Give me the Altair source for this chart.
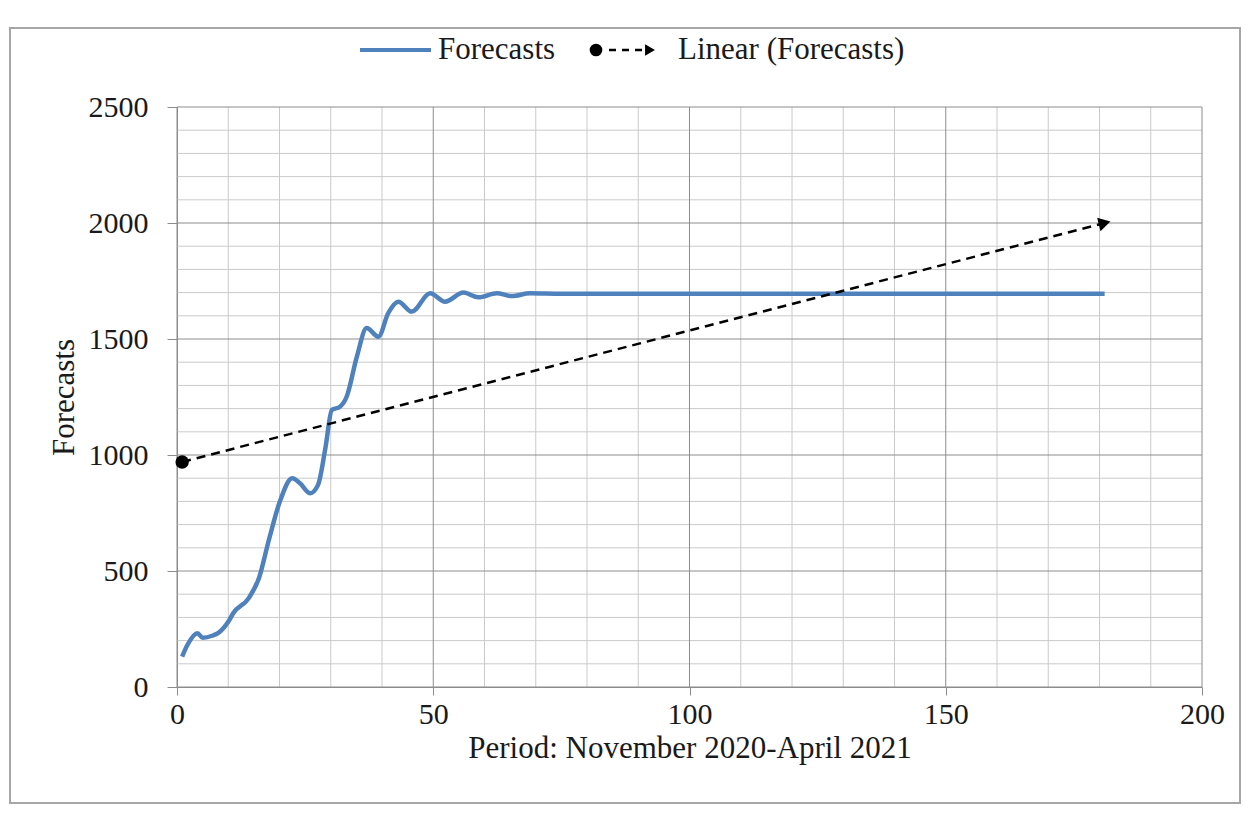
import altair as alt
import pandas as pd

# ---- data ----
period = [1, 2, 4, 5, 7, 8, 10, 11, 14, 16, 18, 20, 22.5, 24, 26, 27.5, 29, 30.2, 31.8, 33.1,
          35.1, 37, 39.3, 41.2, 43.2, 45.8, 49.4, 52.3, 55.9, 58.8, 62.4, 65.3, 68.9, 75, 90,
          120, 150, 181]
forecast = [131, 180, 232, 212, 222, 232, 281, 319, 383, 470, 640, 795, 900, 878, 835, 870,
            1036, 1194, 1208, 1251, 1424, 1547, 1510, 1611, 1661, 1618, 1697, 1661, 1700, 1680,
            1697, 1685, 1697, 1695, 1695, 1695, 1695, 1695]
trend_period = [1, 181]
trend_value = [970, 2000]
x_labels = [0, 50, 100, 150, 200]
y_labels = [0, 500, 1000, 1500, 2000, 2500]
x_minor_grid = [v for v in range(0, 201, 10) if v % 50 != 0]
y_minor_grid = [v for v in range(0, 2501, 100) if v % 500 != 0]
legend_labels = ["Forecasts", "Linear (Forecasts)"]

FONT = "Liberation Serif"
TXT = "#1a1a1a"
MAJOR = "#8c8c8c"
MINOR = "#cacaca"
BLUE = "#4F81BD"
W, H = 1025, 580

df = pd.DataFrame({"period": period, "forecast": forecast})
tr = pd.DataFrame({"period": trend_period, "forecast": trend_value})
tr_start = tr.head(1)
tr_end = tr.tail(1)

xscale = alt.Scale(domain=[0, 200], nice=False, zero=False)
yscale = alt.Scale(domain=[0, 2500], nice=False)

xaxis = alt.Axis(
    values=x_labels, tickCount=40, grid=False, format="d",
    tickColor=MAJOR, tickSize=8, domainColor=MAJOR,
    labelFont=FONT, labelFontSize=30, labelColor=TXT, labelPadding=4,
    labelOverlap=False, labelFlush=False,
    title="Period: November 2020-April 2021", titleFont=FONT, titleFontSize=31,
    titleFontWeight="normal", titleColor=TXT, titlePadding=4,
)
yaxis = alt.Axis(
    values=y_labels, tickCount=40, grid=False, format="d",
    tickColor=MAJOR, tickSize=10, domainColor=MAJOR,
    labelFont=FONT, labelFontSize=30, labelColor=TXT, labelPadding=19,
    labelOverlap=False, labelFlush=False,
    title="Forecasts", titleFont=FONT, titleFontSize=31,
    titleFontWeight="normal", titleColor=TXT, titlePadding=8,
)
X = alt.X("period:Q", scale=xscale, axis=xaxis)
Y = alt.Y("forecast:Q", scale=yscale, axis=yaxis)

# ---- grid drawn as rules from the tick lists ----
vgrid_minor = alt.Chart(pd.DataFrame({"period": x_minor_grid})).mark_rule(
    color=MINOR, strokeWidth=1).encode(x=X)
hgrid_minor = alt.Chart(pd.DataFrame({"forecast": y_minor_grid})).mark_rule(
    color=MINOR, strokeWidth=1).encode(y=Y)
vgrid_major = alt.Chart(pd.DataFrame({"period": x_labels})).mark_rule(
    color=MAJOR, strokeWidth=1).encode(x=X)
hgrid_major = alt.Chart(pd.DataFrame({"forecast": y_labels})).mark_rule(
    color=MAJOR, strokeWidth=1).encode(y=Y)

line = alt.Chart(df).mark_line(color=BLUE, strokeWidth=4.5, interpolate="monotone").encode(x=X, y=Y)
trend = alt.Chart(tr).mark_line(color="black", strokeWidth=2.5, strokeDash=[9, 6]).encode(x=X, y=Y)
start_dot = alt.Chart(tr_start).mark_point(shape="circle", filled=True, color="black",
                                           size=180, opacity=1).encode(x=X, y=Y)
end_arrow = alt.Chart(tr_end).mark_point(shape="triangle-right", filled=True, color="black",
                                         size=190, opacity=1, angle=346).encode(x=X, y=Y)

# ---- custom legend (top, centred) ----
one = pd.DataFrame({"k": [0]})
LY = -57
leg_line = alt.Chart(one).mark_rule(color=BLUE, strokeWidth=4).encode(
    x=alt.value(183), x2=alt.value(254), y=alt.value(LY))
leg_text1 = alt.Chart(one).mark_text(text=legend_labels[0], font=FONT, fontSize=31, color=TXT,
                                     align="left", baseline="middle").encode(
    x=alt.value(261), y=alt.value(LY))
leg_dot = alt.Chart(one).mark_point(shape="circle", filled=True, color="black", size=160,
                                    opacity=1).encode(x=alt.value(419), y=alt.value(LY))
leg_dash = alt.Chart(one).mark_rule(color="black", strokeWidth=2.5, strokeDash=[7, 6]).encode(
    x=alt.value(432), x2=alt.value(466), y=alt.value(LY))
leg_arrow = alt.Chart(one).mark_point(shape="triangle-right", filled=True, color="black",
                                      size=130, opacity=1).encode(x=alt.value(473), y=alt.value(LY))
leg_text2 = alt.Chart(one).mark_text(text=legend_labels[1], font=FONT, fontSize=31, color=TXT,
                                     align="left", baseline="middle").encode(
    x=alt.value(501), y=alt.value(LY))

frame = alt.Chart(one).mark_rect(fill="transparent", stroke="#a6a6a6", strokeWidth=2).encode(
    x=alt.value(-167), x2=alt.value(1063), y=alt.value(-79), y2=alt.value(696))

chart = alt.layer(
    frame, vgrid_minor, hgrid_minor, vgrid_major, hgrid_major,
    line, trend, start_dot, end_arrow,
    leg_line, leg_text1, leg_dot, leg_dash, leg_arrow, leg_text2,
).properties(
    width=W, height=H,
    autosize=alt.AutoSizeParams(type="none"),
    padding={"left": 169, "top": 99, "right": 42, "bottom": 120},
    background="white",
).configure_view(stroke=None)

chart.save("out.html", embed_options={"renderer": "svg", "actions": False})
